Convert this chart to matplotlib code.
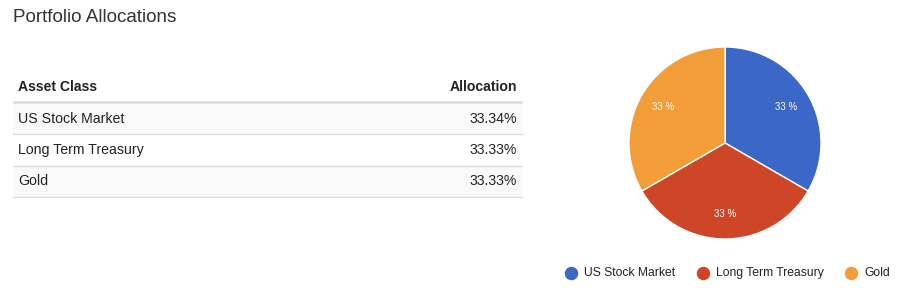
import matplotlib
matplotlib.use("Agg")
import matplotlib.pyplot as plt
from matplotlib.patches import Rectangle

plt.rcParams['font.family'] = ['Liberation Sans', 'DejaVu Sans']

title = "Portfolio Allocations"
header = ["Asset Class", "Allocation"]
categories = ["US Stock Market", "Long Term Treasury", "Gold"]
allocations = [33.34, 33.33, 33.33]
colors = ["#3b67c7", "#ce4628", "#f29d37"]

W, H = 908, 300
fig = plt.figure(figsize=(W / 100, H / 100), dpi=100)
fig.patch.set_facecolor("white")

ax = fig.add_axes([0, 0, 1, 1])
ax.set_xlim(0, W)
ax.set_ylim(H, 0)
ax.axis("off")

# Title
ax.text(13, 17, title, fontsize=13.6, color="#333333", va="center", ha="left")

# Table
tx0, tx1 = 13, 522
ax.text(18, 87, header[0], fontsize=10.1, fontweight="bold", color="#222222", va="center")
ax.text(517, 87, header[1], fontsize=10.1, fontweight="bold", color="#222222", va="center", ha="right")
ax.plot([tx0, tx1], [102, 102], color="#dddddd", lw=2, solid_capstyle="butt")
row_h = 31.3
y0 = 103
for i, (cat, val) in enumerate(zip(categories, allocations)):
    top = y0 + i * row_h
    if i % 2 == 0:
        ax.add_patch(Rectangle((tx0, top), tx1 - tx0, row_h, facecolor="#f9f9f9", edgecolor="none"))
    ax.text(18, top + row_h / 2, cat, fontsize=10.2, color="#222222", va="center")
    ax.text(517, top + row_h / 2, f"{val:.2f}%", fontsize=10.2, color="#222222", va="center", ha="right")
    ax.plot([tx0, tx1], [top + row_h, top + row_h], color="#dddddd", lw=1)

# Legend
lx = [571, 703, 851]
ly = 273
for x, cat, c in zip(lx, categories, colors):
    ax.scatter([x], [ly], s=75, color=c, zorder=3)
    ax.text(x + 13, ly, cat, fontsize=8.7, color="#222222", va="center", ha="left")

# Pie
cx, cy, r = 725, 143, 96
pax = fig.add_axes([(cx - r) / W, (H - cy - r) / H, 2 * r / W, 2 * r / H])
wedges, texts, autotexts = pax.pie(
    allocations, colors=colors, startangle=90, counterclock=False,
    autopct=lambda p: f"{p:.0f} %", pctdistance=0.74,
    wedgeprops=dict(edgecolor="white", linewidth=1),
    textprops=dict(color="white", fontsize=7),
)
pax.set_xlim(-1, 1)
pax.set_ylim(-1, 1)
pax.set_aspect("equal")
pax.axis("off")

fig.savefig("out.png", dpi=100, facecolor="white")
